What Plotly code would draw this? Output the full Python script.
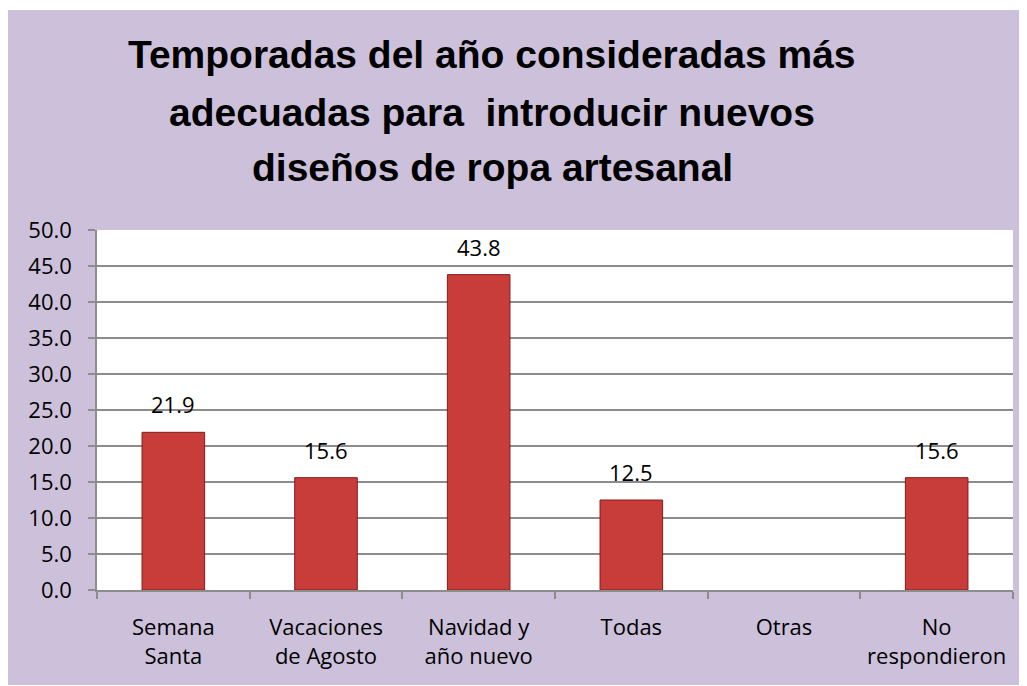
import plotly.graph_objects as go

categories = ["Semana<br>Santa", "Vacaciones<br>de Agosto", "Navidad y<br>año nuevo", "Todas", "Otras", "No<br>respondieron"]
values = [21.9, 15.6, 43.8, 12.5, None, 15.6]
title_lines = ["Temporadas del año consideradas más",
               "adecuadas para  introducir nuevos",
               "diseños de ropa artesanal"]
y_ticks = [0, 5, 10, 15, 20, 25, 30, 35, 40, 45, 50]

BG = "#CCC0DA"
GRID = "#8C8C8C"
FONT = "Open Sans, Lato, sans-serif"

# page offset (body margin) compensation
OFF = 8
W, H = 1027 - OFF, 686 - OFF
# plot area in screen px: x 97..1013, y 230..590
L, T = 97 - OFF, 230 - OFF
R = W - (1013 - OFF)
B = H - (590 - OFF)
pw, ph = W - L - R, H - T - B

def px_x(x):
    return (x - OFF - L) / pw

def px_y(y):
    return (H - B - (y - OFF)) / ph

fig = go.Figure()
fig.add_trace(go.Bar(
    x=categories, y=values,
    marker=dict(color="#C83C3A", line=dict(color="#7E1E1C", width=1)),
    width=0.41,
))

annotations = []
for c, v in zip(categories, values):
    if v is None:
        continue
    annotations.append(dict(x=c, y=v, xref="x", yref="y", text=f"{v:.1f}",
                            showarrow=False, yanchor="bottom", yshift=11,
                            font=dict(family=FONT, size=22, color="black")))

title_y_px = [55, 112, 168]
for line, ypx in zip(title_lines, title_y_px):
    annotations.append(dict(x=px_x(492), y=px_y(ypx), xref="paper", yref="paper",
                            text=f"<b>{line}</b>", showarrow=False,
                            xanchor="center", yanchor="middle",
                            font=dict(family="Liberation Sans, Arial, sans-serif",
                                      size=39, color="black")))

fig.update_layout(
    width=W, height=H,
    margin=dict(l=L, r=R, t=T, b=B, pad=0, autoexpand=False),
    paper_bgcolor="white",
    plot_bgcolor="white",
    showlegend=False,
    annotations=annotations,
    shapes=[
        dict(type="rect", xref="paper", yref="paper", layer="below",
             x0=px_x(7), x1=px_x(1025), y0=px_y(685), y1=px_y(10),
             fillcolor=BG, line=dict(width=0)),
        dict(type="rect", xref="paper", yref="paper", layer="below",
             x0=0, x1=1, y0=0, y1=1,
             fillcolor="white", line=dict(width=0)),
    ],
    bargap=0.59,
)
fig.update_xaxes(
    type="category", tickson="boundaries", ticks="outside", ticklen=7,
    tickcolor=GRID, tickwidth=1.5, showline=True, linecolor=GRID, linewidth=1.5,
    showgrid=False, ticklabelstandoff=17, tickangle=0, automargin=False,
    tickfont=dict(family=FONT, size=22, color="black"),
)
fig.update_yaxes(
    range=[0, 50], tickvals=y_ticks, tickformat=".1f", ticks="outside", ticklen=7,
    tickcolor=GRID, tickwidth=1.5, showline=True, linecolor=GRID, linewidth=1.5,
    showgrid=True, gridcolor=GRID, gridwidth=1.5, zeroline=False,
    ticklabelstandoff=12, automargin=False,
    tickfont=dict(family=FONT, size=22, color="black"),
)

fig.write_html("out.html")
